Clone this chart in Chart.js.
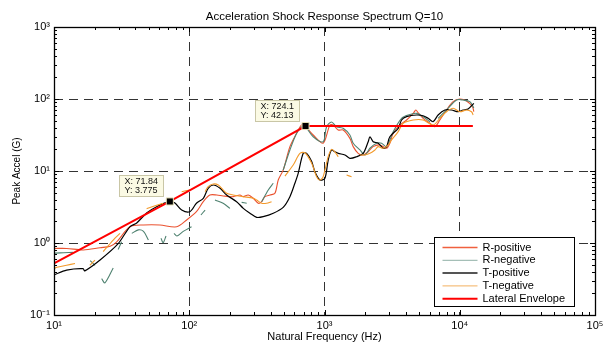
<!DOCTYPE html>
<html>
<head>
<meta charset="utf-8">
<script src="https://cdn.jsdelivr.net/npm/chart.js@4/dist/chart.umd.min.js"></script>
<style>
  html, body { margin: 0; padding: 0; background: #fff; }
  #wrap { width: 611px; height: 345px; }
</style>
</head>
<body>
<div id="wrap"><canvas id="srs"></canvas></div>
<script>
// axis decades
const xTicks = [10, 100, 1000, 10000, 100000];
const yTicks = [0.1, 1, 10, 100, 1000];

// R-positive
const rPosFreq = [10, 12.4, 16.5, 21.9, 26, 29.1, 36.4, 45.9, 60.7, 80.7, 95.7, 113, 127, 142, 160, 178, 211, 237, 251, 273, 297, 324, 343, 363, 395, 430, 455, 495, 555, 622, 677, 716, 825, 977, 1096, 1159, 1263, 1374, 1541, 1630, 1775, 1932, 2104, 2290, 2566, 2877, 3042, 3221, 3606, 4046, 4529, 4737, 4932, 5358, 6012, 6546, 7129, 7980, 8933, 10020, 11220, 12420, 12710];
const rPosAccel = [0.84, 0.84, 0.80, 0.86, 0.9, 1.04, 1.68, 1.78, 1.78, 1.68, 2.09, 2.72, 3.75, 4.64, 4.64, 4.50, 4.40, 4.64, 4.40, 4.64, 4.18, 3.56, 3.75, 4.40, 4.64, 4.90, 7.50, 10.3, 21.8, 33.4, 43.6, 42.1, 31.6, 24.3, 43.6, 43.6, 37.1, 37.1, 28.4, 21.8, 17.6, 16.7, 18.5, 21.8, 23.0, 20.7, 24.3, 33.4, 43.6, 51.1, 63.2, 70.3, 64, 53.9, 46.0, 41.2, 51.1, 70.3, 91.8, 100, 93.8, 78.2, 66.6];

// R-negative (null = break in the trace)
const rNegFreq = [10, 11.1, 13.8, 13.8, 18.5, 20.1, 20.1, 22.5, 23.8, 27.4, 27.4, 29.8, 31.6, 31.6, 37.6, 42, 45.9, 49.9, 49.9, 61.8, 64.2, 67.3, 67.3, 77.1, 81.1, 90.3, 104, 104, 122, 131, 131, 155, 178, 200, 200, 244, 266, 266, 343, 384, 418, 418, 495, 555, 622, 677, 716, 825, 977, 1036, 1127, 1228, 1374, 1541, 1630, 1828, 1990, 2167, 2427, 2642, 2877, 3221, 3715, 4157, 4797, 5358, 6012, 6012, 6918, 7980, 9460, 10590, 11880, 12710];
const rNegAccel = [0.72, 0.73, 0.74, null, 0.57, 0.49, null, 0.32, 0.28, 0.45, null, 0.81, 1.04, null, 1.36, 1.52, 1.45, 1.10, null, 1.16, 1.01, 1.25, null, 1.36, 1.25, 1.45, 1.68, null, 2.45, 2.87, null, 3.96, 3.56, 3.03, null, 3.67, 3.56, null, 3.75, 5.45, 6.75, null, 10.3, 19.6, 33.4, 41.2, 42.1, 29.9, 25.5, 41.2, 48, 41.2, 39.2, 31.6, 24.3, 19.6, 16.7, 20.7, 24.3, 24.3, 21.8, 35.2, 53.9, 59.9, 63.2, 56.8, 48.4, null, 53.9, 70.3, 96.8, 96.8, 91.8, 75];

// T-positive
const tPosFreq = [10, 12.4, 16.4, 16.9, 21.9, 29.7, 36.4, 40.9, 48.4, 57.4, 71.8, 78.4, 87.9, 101, 113, 127, 138, 150.5, 169, 189, 224, 251, 281, 315, 352, 418, 495, 555, 604, 639, 696, 738, 804, 849, 925, 1007, 1065, 1127, 1193, 1263, 1416, 1541, 1727, 1932, 2104, 2167, 2290, 2494, 2716, 2877, 3042, 3508, 3715, 4046, 4797, 5358, 5834, 6353, 6918, 7762, 8690, 9727, 10590, 11530, 12710];
const tPosAccel = [0.36, 0.42, 0.44, 0.41, 0.58, 0.97, 1.68, 1.90, 2.61, 3.19, 3.775, 3.59, 2.87, 2.72, 3.56, 4.18, 5.75, 6.39, 5.75, 4.64, 3.75, 3.03, 2.59, 2.27, 2.32, 2.59, 3.13, 4.40, 6.75, 9.29, 17.6, 17.6, 13.5, 9.78, 7.50, 7.93, 14.2, 19.6, 18.5, 17.6, 16.7, 15.0, 15.8, 17.6, 25.5, 29.9, 25.5, 24.3, 20.7, 21.8, 29.9, 39.2, 51.1, 56.8, 59.9, 58.6, 53.9, 48.4, 59.9, 70.3, 70.3, 66.6, 70.3, 72.6, 87.1];

// T-negative (null = break in the trace)
const tNegFreq = [10, 10.5, 12.4, 14.3, 14.3, 18.4, 20.1, 20.1, 23.1, 27.4, 30.8, 30.8, 48.4, 56, 64.2, 64.2, 87.9, 101, 101, 131, 138, 150.5, 164, 178, 189, 211, 251, 297, 315, 343, 373, 406, 406, 510, 587, 658, 716, 804, 874, 925, 977, 1065, 1127, 1193, 1263, 1263, 1456, 1585, 1585, 1828, 1990, 2167, 2360, 2494, 2716, 2958, 3133, 3508, 3819, 4529, 5358, 6353, 7129, 7980, 8933, 10020, 11220, 12220, 12560];
const tNegAccel = [0.44, 0.46, 0.49, 0.52, null, 0.49, 0.58, null, 0.76, 1.10, 1.36, null, 3.0, 3.3, 3.55, null, 5.16, 5.45, null, 5.16, 6.06, 6.6, 6.39, 5.45, 4.90, 4.64, 4.40, 4.18, 3.96, 3.56, 3.56, 3.75, null, 8.5, 12.1, 17.6, 17.9, 12.8, 8.33, 7.50, 8.33, 15.8, 20.0, 18.5, 15.8, null, 8.80, 8.33, null, 16.7, 16.7, 17.6, 19.6, 21.8, 20.7, 23.0, 27.0, 35.2, 46.0, 51.1, 51.1, 43.6, 53.9, 66.6, 74.3, 66.6, 70.3, 66.6, 59.9];

// Lateral envelope
const envFreq = [10, 71.84, 724.1, 12500];
const envAccel = [0.52, 3.775, 42.13, 42.13];

// data tips
const tipFreq = [71.84, 724.1];
const tipAccel = [3.775, 42.13];

const chartTitle = "Acceleration Shock Response Spectrum Q=10";

const pts = (fs, vs) => fs.map((f, i) => ({ x: f, y: vs[i] }));
const supDigits = { "-": "\u207B", "0": "\u2070", "1": "\u00B9", "2": "\u00B2", "3": "\u00B3", "4": "\u2074", "5": "\u2075" };
const decadeLabel = (v) => "10" + String(Math.round(Math.log10(v))).split("").map(c => supDigits[c]).join("");

const FONT = "'Liberation Sans', Arial, Helvetica, sans-serif";

// title over the axes, box, inward ticks on all four sides, data tip boxes and legend
const matlabFrame = {
    id: "matlabFrame",
    afterDraw(chart) {
        const { ctx, chartArea: a, scales: { x, y } } = chart;
        ctx.save();
        ctx.fillStyle = "#000";
        ctx.font = "11.5px " + FONT;
        ctx.textAlign = "center";
        ctx.textBaseline = "middle";
        ctx.fillText(chartTitle, (a.left + a.right) / 2, a.top - 10);

        ctx.strokeStyle = "#000";
        ctx.lineWidth = 1;
        ctx.setLineDash([]);
        ctx.beginPath();
        for (let d = 1; d < 5; d++) {
            for (let m = 1; m < 10; m++) {
                const px = Math.round(x.getPixelForValue(m * Math.pow(10, d))) + 0.5;
                const len = m === 1 ? 5 : 3;
                ctx.moveTo(px, a.bottom); ctx.lineTo(px, a.bottom - len);
                ctx.moveTo(px, a.top); ctx.lineTo(px, a.top + len);
            }
        }
        for (let d = -1; d < 3; d++) {
            for (let m = 1; m < 10; m++) {
                const py = Math.round(y.getPixelForValue(m * Math.pow(10, d))) + 0.5;
                const len = m === 1 ? 5 : 3;
                ctx.moveTo(a.left, py); ctx.lineTo(a.left + len, py);
                ctx.moveTo(a.right, py); ctx.lineTo(a.right - len, py);
            }
        }
        ctx.stroke();
        ctx.lineWidth = 1.3;
        ctx.strokeRect(a.left + 0.5, a.top + 0.5, a.right - a.left, a.bottom - a.top);

        // data tip boxes
        ctx.font = "9px " + FONT;
        ctx.textAlign = "left";
        tipFreq.forEach((f, i) => {
            const mx = x.getPixelForValue(f);
            const my = y.getPixelForValue(tipAccel[i]);
            const w = 44, h = 21;
            const bx = Math.round(mx - 7 - w) + 0.5, by = Math.round(my - 5 - h) + 0.5;
            ctx.fillStyle = "#fbfae4";
            ctx.strokeStyle = "#c9c6a6";
            ctx.lineWidth = 1;
            ctx.fillRect(bx, by, w, h);
            ctx.strokeRect(bx, by, w, h);
            ctx.fillStyle = "#111";
            ctx.fillText("X: " + f, bx + 5, by + 6);
            ctx.fillText("Y: " + tipAccel[i], bx + 5, by + 15);
        });

        // legend
        const items = chart.data.datasets.filter(ds => ds.inLegend);
        const lw = 140, lh = 69;
        const lx = Math.round(a.right - 21 - lw) + 0.5, ly = Math.round(a.bottom - 9 - lh) + 0.5;
        ctx.fillStyle = "#fff";
        ctx.fillRect(lx, ly, lw, lh);
        ctx.strokeStyle = "#000";
        ctx.lineWidth = 1;
        ctx.strokeRect(lx, ly, lw, lh);
        ctx.font = "11px " + FONT;
        items.forEach((ds, i) => {
            const ry = ly + 10 + i * 12.8;
            ctx.strokeStyle = ds.legendColor || ds.borderColor;
            ctx.lineWidth = ds.legendWidth || ds.borderWidth;
            ctx.beginPath();
            ctx.moveTo(lx + 8, ry); ctx.lineTo(lx + 43, ry);
            ctx.stroke();
            ctx.fillStyle = "#000";
            ctx.fillText(ds.label, lx + 48, ry);
        });
        ctx.restore();
    }
};

const lineSet = (label, fs, vs, color, width, order, extra) => Object.assign({
    label: label,
    data: pts(fs, vs),
    borderColor: color,
    backgroundColor: color,
    borderWidth: width,
    pointRadius: 0,
    tension: 0.3,
    spanGaps: false,
    order: order,
    inLegend: true,
}, extra || {});

new Chart(document.getElementById("srs"), {
    type: "line",
    data: {
        datasets: [
            lineSet("R-positive", rPosFreq, rPosAccel, "#ea5230", 1.1, 6, { legendColor: "#f0603e", legendWidth: 1.5 }),
            lineSet("R-negative", rNegFreq, rNegAccel, "#4f8270", 1.1, 5, { legendColor: "#8fb0a6", legendWidth: 1 }),
            lineSet("T-positive", tPosFreq, tPosAccel, "#000000", 1.2, 4, { legendColor: "#555", legendWidth: 2 }),
            lineSet("T-negative", tNegFreq, tNegAccel, "#f39a2a", 1.1, 3, { legendColor: "#f3b060", legendWidth: 1 }),
            lineSet("Lateral Envelope", envFreq, envAccel, "#ff0000", 2, 2, { tension: 0 }),
            {
                label: "Data tips",
                data: pts(tipFreq, tipAccel),
                showLine: false,
                pointStyle: "rect",
                pointRadius: 5,
                pointBackgroundColor: "#000",
                pointBorderColor: "#e8e2b8",
                pointBorderWidth: 1,
                order: 1,
                inLegend: false,
            },
        ],
    },
    options: {
        responsive: true,
        maintainAspectRatio: false,
        animation: false,
        events: [],
        layout: { padding: { left: 0, right: 16, top: 27, bottom: 0 } },
        plugins: {
            legend: { display: false },
            tooltip: { enabled: false },
            title: { display: false },
        },
        scales: {
            x: {
                type: "logarithmic",
                min: 10,
                max: 100000,
                afterBuildTicks: (s) => { s.ticks = xTicks.map(v => ({ value: v })); },
                afterFit: (s) => { s.height = 30; },
                grid: { color: "rgba(0,0,0,0.8)", lineWidth: 1, drawTicks: false },
                border: { display: false, dash: [9, 6] },
                ticks: {
                    autoSkip: false,
                    maxRotation: 0,
                    padding: 4,
                    color: "#000",
                    font: { family: FONT, size: 11 },
                    callback: (v) => decadeLabel(v),
                },
                title: {
                    display: true,
                    text: "Natural Frequency (Hz)",
                    color: "#000",
                    font: { family: FONT, size: 11 },
                    padding: { top: 0, bottom: 1 },
                },
            },
            y: {
                type: "logarithmic",
                min: 0.1,
                max: 1000,
                afterBuildTicks: (s) => { s.ticks = yTicks.map(v => ({ value: v })); },
                afterFit: (s) => { s.width = 54; },
                grid: { color: "rgba(0,0,0,0.8)", lineWidth: 1, drawTicks: false },
                border: { display: false, dash: [9, 6] },
                ticks: {
                    autoSkip: false,
                    padding: 4,
                    color: "#000",
                    font: { family: FONT, size: 11 },
                    callback: (v) => decadeLabel(v),
                },
                title: {
                    display: true,
                    text: "Peak Accel (G)",
                    color: "#000",
                    font: { family: FONT, size: 10 },
                    padding: { top: 11, bottom: 0 },
                },
            },
        },
    },
    plugins: [matlabFrame],
});
</script>
</body>
</html>
